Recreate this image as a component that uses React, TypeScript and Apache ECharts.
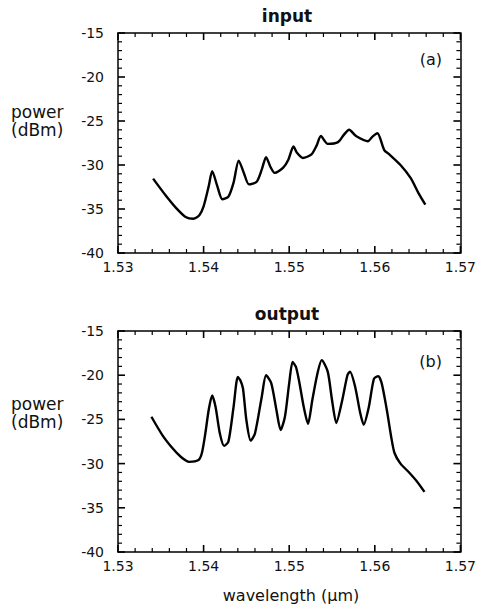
import React, { useEffect, useRef } from "react";
import * as echarts from "echarts";

const xTicks = [1.53, 1.54, 1.55, 1.56, 1.57];
const yTicks = [-40, -35, -30, -25, -20, -15];
const X_MIN = 1.53;
const X_MAX = 1.57;
const Y_MIN = -40;
const Y_MAX = -15;

const inputWavelength = [
  1.5341, 1.5356, 1.5368, 1.5379, 1.5388, 1.5395, 1.54, 1.5406, 1.541, 1.5416, 1.5422, 1.5429, 1.5435,
  1.5441, 1.5447, 1.5453, 1.5462, 1.5468, 1.5473, 1.5478, 1.5483, 1.5493, 1.5499, 1.5505, 1.5509,
  1.5516, 1.5526, 1.5532, 1.5537, 1.5545, 1.5557, 1.5564, 1.557, 1.5578, 1.5592, 1.5597, 1.5603,
  1.5611, 1.5617, 1.563, 1.5642, 1.5651, 1.5659,
];
const inputPower = [
  -31.55, -33.5, -34.9, -35.9, -36.1, -35.7, -34.7, -32.4, -30.7, -32.4, -33.9, -33.6, -32.0,
  -29.5, -30.9, -32.2, -31.9, -30.5, -29.1, -30.2, -30.9, -30.3, -29.4, -27.9, -28.6,
  -29.2, -28.8, -27.8, -26.7, -27.6, -27.4, -26.55, -26.0, -26.7, -27.3, -26.8, -26.4,
  -28.3, -28.8, -30.0, -31.5, -33.2, -34.5,
];

const outputWavelength = [
  1.5339, 1.5352, 1.5364, 1.5373, 1.5383, 1.5394, 1.5398, 1.5402, 1.5406, 1.541, 1.5414, 1.5419,
  1.5424, 1.5429, 1.5435, 1.544, 1.5443, 1.5446, 1.545, 1.5455, 1.546, 1.5468, 1.5473, 1.5479,
  1.5485, 1.549, 1.5495, 1.55, 1.5504, 1.5508, 1.5512, 1.5517, 1.5522, 1.5527, 1.5533, 1.5538,
  1.5545, 1.555, 1.5555, 1.5562, 1.5568, 1.5571, 1.5577, 1.5583, 1.5587, 1.5593, 1.5599, 1.5604,
  1.5608, 1.5614, 1.5619, 1.5623, 1.563, 1.5639, 1.5649, 1.5658,
];
const outputPower = [
  -24.7, -26.8, -28.3, -29.2, -29.8, -29.6, -28.8, -26.6, -23.9, -22.3, -23.6, -26.6,
  -28.0, -27.5, -23.6, -20.2, -20.6, -21.5, -25.1, -27.4, -26.6, -22.4, -20.0, -20.9,
  -23.9, -26.2, -24.7, -20.9, -18.5, -19.1, -20.9, -23.6, -25.5, -22.8, -19.8, -18.3,
  -19.6, -22.8, -25.4, -22.8, -20.0, -19.6, -21.3, -24.3, -25.6, -23.6, -20.4, -20.1,
  -20.9, -23.9, -26.9, -28.8, -30.0, -30.9, -32.0, -33.2,
];

const FONT = "DejaVu Sans";
const INK = "#000";

function zip(xs: number[], ys: number[]) {
  return xs.map((x, i) => [x, ys[i]]);
}

// tick positions (major = 1, minor = 0): each major interval split in 5
function tickList(major: number[]) {
  const out: number[][] = [];
  for (let i = 0; i < major.length; i++) {
    out.push([major[i], 1]);
    if (i < major.length - 1) {
      const step = (major[i + 1] - major[i]) / 5;
      for (let k = 1; k < 5; k++) out.push([+(major[i] + step * k).toFixed(6), 0]);
    }
  }
  return out;
}

export default function App() {
  const ref = useRef<HTMLDivElement>(null);
  useEffect(() => {
    if (!ref.current) return;
    const chart = echarts.init(ref.current, null, { renderer: "svg" });
    const axisLine = () => ({ show: true, onZero: false, lineStyle: { color: INK, width: 1.5 } });
    const mkX = (gridIndex: number, withLabels: boolean, position: string) => ({
      type: "value",
      gridIndex,
      position,
      min: X_MIN,
      max: X_MAX,
      interval: 0.01,
      axisLine: axisLine(),
      axisTick: { show: false },
      splitLine: { show: false },
      axisLabel: withLabels
        ? { show: true, color: "#111", fontFamily: FONT, fontSize: 14, margin: 7, formatter: (v: number) => xTicks.includes(+v.toFixed(2)) ? v.toFixed(2) : "" }
        : { show: false },
    });
    const mkY = (gridIndex: number, withLabels: boolean, position: string) => ({
      type: "value",
      gridIndex,
      position,
      min: Y_MIN,
      max: Y_MAX,
      interval: 5,
      axisLine: axisLine(),
      axisTick: { show: false },
      splitLine: { show: false },
      axisLabel: withLabels
        ? { show: true, color: "#111", fontFamily: FONT, fontSize: 14, margin: 14, formatter: (v: number) => yTicks.includes(v) ? String(v) : "" }
        : { show: false },
    });
    const lineSeries = (idx: number, data: number[][]) => ({
      type: "line",
      xAxisIndex: idx * 2,
      yAxisIndex: idx * 2,
      data,
      showSymbol: false,
      smooth: 0.25,
      lineStyle: { color: "#000", width: 2.4 },
      z: 3,
    });
    const tickStyle = (major: boolean) => ({ stroke: INK, lineWidth: major ? 1.6 : 1.2 });
    const xTickSeries = (idx: number) => ({
      type: "custom",
      xAxisIndex: idx * 2,
      yAxisIndex: idx * 2,
      clip: false,
      silent: true,
      z: 4,
      data: tickList(xTicks),
      renderItem: (_p: any, api: any) => {
        const v = api.value(0);
        const major = api.value(1) === 1;
        const len = major ? 7 : 4;
        const b = api.coord([v, Y_MIN]);
        const t = api.coord([v, Y_MAX]);
        return {
          type: "group",
          children: [
            { type: "line", shape: { x1: b[0], y1: b[1], x2: b[0], y2: b[1] - len }, style: tickStyle(major) },
            { type: "line", shape: { x1: t[0], y1: t[1], x2: t[0], y2: t[1] + len }, style: tickStyle(major) },
          ],
        };
      },
    });
    const yTickSeries = (idx: number) => ({
      type: "custom",
      xAxisIndex: idx * 2,
      yAxisIndex: idx * 2,
      clip: false,
      silent: true,
      z: 4,
      encode: { x: 1, y: 0 },
      data: tickList(yTicks).map((d) => [d[0], d[1]]),
      renderItem: (_p: any, api: any) => {
        const v = api.value(0);
        const major = api.value(1) === 1;
        const len = major ? 7 : 4;
        const l = api.coord([X_MIN, v]);
        const r = api.coord([X_MAX, v]);
        return {
          type: "group",
          children: [
            { type: "line", shape: { x1: l[0], y1: l[1], x2: l[0] + len, y2: l[1] }, style: tickStyle(major) },
            { type: "line", shape: { x1: r[0], y1: r[1], x2: r[0] - len, y2: r[1] }, style: tickStyle(major) },
          ],
        };
      },
    });
    const txt = (x: number, y: number, text: string, size: number, weight = "normal", align = "left") => ({
      type: "text",
      x,
      y,
      style: { text, fill: "#111", font: `${weight} ${size}px "${FONT}"`, textAlign: align, textVerticalAlign: "middle" },
    });
    chart.setOption({
      animation: false,
      backgroundColor: "#fff",
      grid: [
        { left: 118, top: 33, width: 345, height: 220 },
        { left: 118, top: 331, width: 346, height: 221 },
      ],
      xAxis: [mkX(0, true, "bottom"), mkX(0, false, "top"), mkX(1, true, "bottom"), mkX(1, false, "top")],
      yAxis: [mkY(0, true, "left"), mkY(0, false, "right"), mkY(1, true, "left"), mkY(1, false, "right")],
      series: [
        lineSeries(0, zip(inputWavelength, inputPower)),
        lineSeries(1, zip(outputWavelength, outputPower)),
        xTickSeries(0),
        yTickSeries(0),
        xTickSeries(1),
        yTickSeries(1),
      ],
      graphic: [
        txt(287, 16, "input", 17, "bold", "center"),
        txt(287, 314, "output", 17, "bold", "center"),
        txt(11, 112, "power", 17),
        txt(11, 130, "(dBm)", 17),
        txt(11, 404, "power", 17),
        txt(11, 422, "(dBm)", 17),
        txt(442, 59, "(a)", 16, "normal", "right"),
        txt(442, 361, "(b)", 16, "normal", "right"),
        txt(291, 595, "wavelength (μm)", 16, "normal", "center"),
      ],
    });
    return () => chart.dispose();
  }, []);
  return <div ref={ref} style={{ position: "absolute", left: 0, top: 0, width: 479, height: 609 }} />;
}
